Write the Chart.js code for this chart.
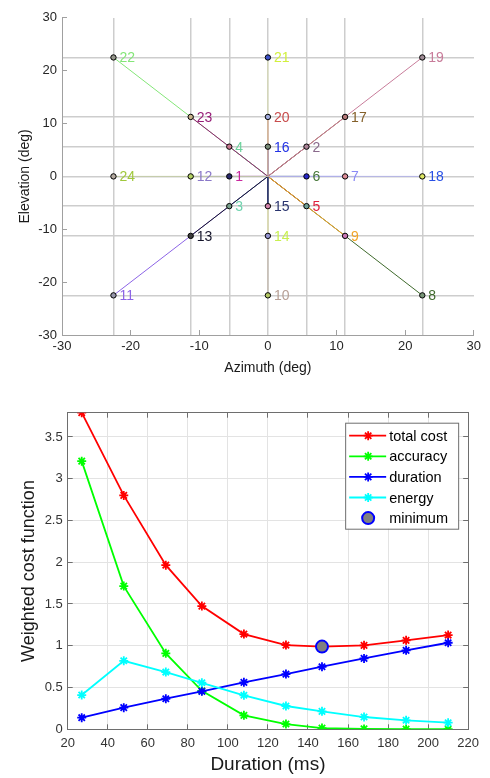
<!DOCTYPE html>
<html>
<head>
<meta charset="utf-8">
<script src="https://cdn.jsdelivr.net/npm/chart.js@4"></script>
<style>
  body { margin: 0; background: #fff; }
  #caja1 { position: absolute; left: 0; top: 0; width: 490px; height: 385px; }
  #caja2 { position: absolute; left: 0; top: 385px; width: 490px; height: 393px; }
</style>
</head>
<body>
<div id="caja1"><canvas id="graficaObjetivos"></canvas></div>
<div id="caja2"><canvas id="graficaCoste"></canvas></div>
<script>
// --- datos grafica de objetivos (deg) ---
const numeros = [1, 2, 3, 4, 5, 6, 7, 8, 9, 10, 11, 12, 13, 14, 15, 16, 17, 18, 19, 20, 21, 22, 23, 24];
const azimut = [-5.625, 5.625, -5.625, -5.625, 5.625, 5.625, 11.25, 22.5, 11.25, 0, -22.5, -11.25,
                -11.25, 0, 0, 0, 11.25, 22.5, 22.5, 0, 0, -22.5, -11.25, -22.5];
const elevacion = [0, 5.625, -5.625, 5.625, -5.625, 0, 0, -22.5, -11.25, -22.5, -22.5, 0,
                   -11.25, -11.25, -5.625, 5.625, 11.25, 0, 22.5, 11.25, 22.5, 22.5, 11.25, 0];
const rejilla = [-22.5, -11.25, -5.625, 0, 5.625, 11.25, 22.5];
const coloresEtiqueta = ['#c8289e', '#8a6a8c', '#6fd3ae', '#6cd29c', '#e0203c', '#47783a', '#8a8af5', '#3f6a2c',
                         '#f0a428', '#b8a096', '#8c64e6', '#8a78c8', '#14142a', '#c8f050', '#2a346e', '#2232e6',
                         '#84602a', '#2850e6', '#c87c9a', '#c84c4c', '#d2f03c', '#84e678', '#961e78', '#a0c83c'];
// las lineas sobre los ejes (0 deg) se ven mas claras en el original
const coloresLinea = ['#c8289e', '#8a6a8c', '#6fd3ae', '#6cd29c', '#e0203c', '#47783a', '#8a8af5', '#3f6a2c',
                      '#f0a428', '#c8c0b8', '#8c64e6', '#8a78c8', '#14142a', '#dcdcb4', '#2a346e', '#2232e6',
                      '#84602a', '#b4b4e6', '#c87c9a', '#c84c4c', '#d8dcb0', '#84e678', '#961e78', '#c4cca8'];
const coloresRelleno = ['#28286a', '#aa8296', '#78a08c', '#c87890', '#6ea096', '#2828c8', '#dc8c96', '#789678',
                        '#c878b4', '#b4c864', '#9696aa', '#b4d264', '#3c3c3c', '#9696d2', '#d282aa', '#788c78',
                        '#b47878', '#dce664', '#a08c96', '#a0aadc', '#3c50c8', '#96968c', '#c8b48c', '#b4aaa0'];

// --- datos grafica de coste ---
const duracion = [27, 48, 69, 87, 108, 129, 147, 168, 189, 210]; // ms
const costeTotal = [3.79, 2.80, 1.965, 1.475, 1.14, 1.008, 0.99, 1.005, 1.065, 1.128];
const costePrecision = [3.21, 1.714, 0.909, 0.46, 0.167, 0.063, 0.015, 0.005, 0.002, 0.001];
const costeDuracion = [0.139, 0.259, 0.366, 0.454, 0.562, 0.661, 0.749, 0.849, 0.945, 1.036];
const costeEnergia = [0.41, 0.82, 0.685, 0.557, 0.407, 0.279, 0.215, 0.147, 0.108, 0.079];
const minimoDuracion = [147];
const minimoCoste = [0.99];

const fuente = '"Liberation Sans", Arial, Helvetica, sans-serif';
Chart.defaults.font.family = fuente;
Chart.defaults.color = '#262626';

// numeros al lado de cada punto
const etiquetasPuntos = {
    id: 'etiquetasPuntos',
    afterDatasetsDraw(chart) {
        const meta = chart.getDatasetMeta(chart.data.datasets.length - 1);
        const ctx = chart.ctx;
        ctx.save();
        ctx.font = '14px ' + fuente;
        ctx.textBaseline = 'middle';
        meta.data.forEach((p, i) => {
            ctx.fillStyle = coloresEtiqueta[i];
            ctx.fillText(String(numeros[i]), p.x + 6, p.y + 1);
        });
        ctx.restore();
    }
};

// una linea desde el origen hasta cada objetivo, el ultimo queda encima
let datasetsObjetivos = numeros.map((n, i) => ({
    label: String(n),
    data: [{x: 0, y: 0}, {x: azimut[i], y: elevacion[i]}],
    showLine: true,
    borderColor: coloresLinea[i],
    borderWidth: 1,
    pointRadius: 0,
    order: -n
}));
datasetsObjetivos.push({
    label: 'puntos',
    data: azimut.map((a, i) => ({x: a, y: elevacion[i]})),
    showLine: false,
    pointRadius: 2.7,
    pointBackgroundColor: coloresRelleno,
    pointBorderColor: '#000',
    pointBorderWidth: 1,
    order: -100
});

const ejeGris = '#a0a0a0';

var grafica1 = new Chart(document.getElementById('graficaObjetivos'), {
    type: 'scatter',
    data: { datasets: datasetsObjetivos },
    plugins: [etiquetasPuntos],
    options: {
        responsive: true,
        maintainAspectRatio: false,
        animation: false,
        layout: { padding: { top: 7, right: 13, left: 0, bottom: 0 } },
        plugins: { legend: { display: false }, tooltip: { enabled: false } },
        scales: {
            x: {
                type: 'linear', position: 'bottom', min: -30, max: 30,
                ticks: { stepSize: 10, font: { size: 13 }, padding: 9, color: '#262626' },
                grid: { drawOnChartArea: false, tickLength: -5, tickColor: ejeGris },
                border: { color: ejeGris, width: 1 },
                title: { display: true, text: 'Azimuth (deg)', font: { size: 14 }, color: '#1a1a1a', padding: { top: 0, bottom: 8 } },
                afterFit: s => { s.height = 50; }
            },
            y: {
                type: 'linear', position: 'left', min: -30, max: 30,
                ticks: { stepSize: 10, font: { size: 13 }, padding: 10, color: '#262626' },
                grid: { drawOnChartArea: false, tickLength: -5, tickColor: ejeGris },
                border: { color: ejeGris, width: 1 },
                title: { display: true, text: 'Elevation (deg)', font: { size: 14 }, color: '#1a1a1a', padding: { top: 17, bottom: 0 } },
                afterFit: s => { s.width = 62; }
            },
            xRejilla: {
                type: 'linear', axis: 'x', position: 'top', min: -30, max: 30,
                afterBuildTicks: s => { s.ticks = rejilla.map(v => ({ value: v })); },
                ticks: { display: false },
                grid: { color: '#cdcdcd', lineWidth: 1.5, drawTicks: false },
                border: { display: false },
                afterFit: s => { s.height = 0; }
            },
            yRejilla: {
                type: 'linear', axis: 'y', position: 'right', min: -30, max: 30,
                afterBuildTicks: s => { s.ticks = rejilla.map(v => ({ value: v })); },
                ticks: { display: false },
                grid: { color: '#cdcdcd', lineWidth: 1.5, drawTicks: false },
                border: { display: false },
                afterFit: s => { s.width = 0; }
            }
        }
    }
});

// leyenda dibujada dentro del area del grafico (arriba a la derecha)
const leyendaDentro = {
    id: 'leyendaDentro',
    afterDraw(chart) {
        const ctx = chart.ctx;
        const area = chart.chartArea;
        const ancho = 113, alto = 106;
        const x0 = area.right - 10 - ancho;
        const y0 = area.top + 10;
        ctx.save();
        ctx.fillStyle = '#fff';
        ctx.fillRect(x0, y0, ancho, alto);
        ctx.strokeStyle = '#6e6e6e';
        ctx.lineWidth = 1;
        ctx.strokeRect(x0 + 0.5, y0 + 0.5, ancho, alto);
        ctx.font = '14.5px ' + fuente;
        ctx.textBaseline = 'middle';
        chart.data.datasets.forEach((ds, i) => {
            const yc = y0 + 13 + i * 20.6;
            if (ds.showLine !== false) {
                ctx.strokeStyle = ds.borderColor;
                ctx.lineWidth = ds.borderWidth;
                ctx.beginPath();
                ctx.moveTo(x0 + 4, yc);
                ctx.lineTo(x0 + 41, yc);
                ctx.stroke();
            }
            ctx.fillStyle = ds.pointBackgroundColor;
            ctx.strokeStyle = ds.pointBorderColor;
            ctx.lineWidth = ds.pointBorderWidth;
            Chart.helpers.drawPoint(ctx, {
                pointStyle: ds.pointStyle, rotation: 0,
                radius: ds.pointRadius, borderWidth: ds.pointBorderWidth
            }, x0 + 23, yc);
            ctx.fillStyle = '#000';
            ctx.fillText(ds.label, x0 + 44, yc + 1);
        });
        ctx.restore();
    }
};

function serie(nombre, valores, color, orden) {
    return {
        label: nombre,
        data: duracion.map((d, i) => ({ x: d, y: valores[i] })),
        showLine: true,
        borderColor: color,
        borderWidth: 1.8,
        pointStyle: 'star',
        pointRadius: 4.5,
        pointBorderWidth: 1.8,
        pointBorderColor: color,
        pointBackgroundColor: color,
        order: orden
    };
}

const ejeOscuro = '#6e6e6e';
const rejillaClara = '#e3e3e3';

var grafica2 = new Chart(document.getElementById('graficaCoste'), {
    type: 'scatter',
    data: {
        datasets: [
            serie('total cost', costeTotal, '#ff0000', 5),
            serie('accuracy', costePrecision, '#00ff00', 4),
            serie('duration', costeDuracion, '#0000ff', 3),
            serie('energy', costeEnergia, '#00ffff', 2),
            {
                label: 'minimum',
                data: minimoDuracion.map((d, i) => ({ x: d, y: minimoCoste[i] })),
                showLine: false,
                pointStyle: 'circle',
                pointRadius: 6,
                pointBackgroundColor: '#808080',
                pointBorderColor: '#0000ff',
                pointBorderWidth: 2,
                order: 1
            }
        ]
    },
    plugins: [leyendaDentro],
    options: {
        responsive: true,
        maintainAspectRatio: false,
        animation: false,
        layout: { padding: { top: 27.7, right: 16.7, left: 0, bottom: 0 } },
        plugins: { legend: { display: false }, tooltip: { enabled: false } },
        scales: {
            x: {
                type: 'linear', position: 'bottom', min: 20, max: 220,
                ticks: { stepSize: 20, font: { size: 13 }, padding: 11, color: '#333333' },
                grid: { color: rejillaClara, tickLength: -5, tickColor: ejeOscuro },
                border: { color: ejeOscuro, width: 1 },
                title: { display: true, text: 'Duration (ms)', font: { size: 19 }, color: '#1a1a1a', padding: { top: 0, bottom: 2 } },
                afterFit: s => { s.height = 48.7; }
            },
            xArriba: {
                type: 'linear', axis: 'x', position: 'top', min: 20, max: 220,
                ticks: { stepSize: 20, display: false },
                grid: { drawOnChartArea: false, tickLength: -5, tickColor: ejeOscuro },
                border: { color: ejeOscuro, width: 1 },
                afterFit: s => { s.height = 0; }
            },
            y: {
                type: 'linear', position: 'left', min: 0, max: 3.79,
                ticks: { stepSize: 0.5, includeBounds: false, font: { size: 13 }, padding: 10, color: '#333333',
                         callback: v => String(Number(v.toFixed(2))) },
                grid: { color: rejillaClara, tickLength: -5, tickColor: ejeOscuro },
                border: { color: ejeOscuro, width: 1 },
                title: { display: true, text: 'Weighted cost function', font: { size: 18 }, color: '#1a1a1a', padding: { top: 18, bottom: 0 } },
                afterFit: s => { s.width = 67.7; }
            },
            yDerecha: {
                type: 'linear', axis: 'y', position: 'right', min: 0, max: 3.79,
                ticks: { stepSize: 0.5, includeBounds: false, display: false },
                grid: { drawOnChartArea: false, tickLength: -5, tickColor: ejeOscuro },
                border: { color: ejeOscuro, width: 1 },
                afterFit: s => { s.width = 0; }
            }
        }
    }
});
</script>
</body>
</html>
